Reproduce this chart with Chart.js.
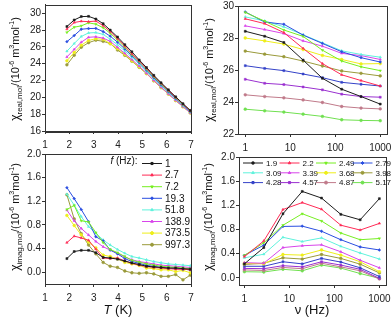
<!DOCTYPE html>
<html lang="en">
<head>
<meta charset="UTF-8">
<title>ac susceptibility</title>
<style>
html, body { margin: 0; padding: 0; background: #fff; }
#wrap { position: relative; width: 392px; height: 322px; overflow: hidden; }
#wrap canvas { position: absolute; left: 0; top: 0; }
</style>
</head>
<body>
<div id="wrap">
<canvas id="c1" width="392" height="322"></canvas>
<canvas id="c2" width="392" height="322"></canvas>
<canvas id="c3" width="392" height="322"></canvas>
<canvas id="c4" width="392" height="322"></canvas>
</div>
<script src="https://cdn.jsdelivr.net/npm/chart.js@4.4.0/dist/chart.umd.min.js"></script>
<script>
// temperatures (K) and frequencies (Hz)
var temps = [1.9, 2.2, 2.49, 2.79, 3.09, 3.39, 3.68, 3.98, 4.28, 4.57, 4.87, 5.17, 5.47, 5.77, 6.07, 6.37, 6.67, 6.97];
var tempLabels = ['1.9', '2.2', '2.49', '2.79', '3.09', '3.39', '3.68', '3.98', '4.28', '4.57', '4.87', '5.17'];
var freqs = [1, 2.7, 7.2, 19.3, 51.8, 138.9, 373.5, 997.3];
var freqLabels = ['1', '2.7', '7.2', '19.3', '51.8', '138.9', '373.5', '997.3'];

// chi' ; one row per temperature, one column per frequency
var chiReal = [
  [28.42, 28.11, 27.72, 26.62, 25.48, 24.80, 24.34, 23.87],
  [29.20, 28.90, 28.34, 27.35, 26.40, 25.70, 25.34, 25.00],
  [29.60, 29.05, 28.50, 28.10, 27.24, 26.56, 26.20, 25.96],
  [29.63, 29.00, 28.86, 28.18, 27.66, 27.14, 26.77, 26.50],
  [29.32, 29.07, 28.70, 28.20, 27.70, 27.20, 26.97, 26.80],
  [28.76, 28.53, 28.28, 27.82, 27.49, 27.04, 26.90, 26.66],
  [28.00, 27.82, 27.62, 27.28, 26.91, 26.66, 26.38, 26.40],
  [27.18, 26.99, 26.83, 26.56, 26.25, 25.94, 25.79, 25.63],
  [26.27, 26.10, 25.96, 25.75, 25.52, 25.23, 25.11, 25.00],
  [25.42, 25.17, 25.09, 24.94, 24.76, 24.49, 24.34, 24.30],
  [24.45, 24.34, 24.26, 24.13, 23.97, 23.72, 23.62, 23.57],
  [23.55, 23.45, 23.37, 23.24, 23.10, 22.89, 22.85, 22.83],
  [22.62, 22.53, 22.46, 22.34, 22.21, 22.02, 21.99, 21.97],
  [21.74, 21.66, 21.60, 21.49, 21.38, 21.21, 21.18, 21.16],
  [20.90, 20.83, 20.78, 20.69, 20.59, 20.44, 20.42, 20.40],
  [20.06, 20.00, 19.95, 19.88, 19.79, 19.66, 19.64, 19.63],
  [19.25, 19.20, 19.16, 19.10, 19.03, 18.92, 18.90, 18.89],
  [18.45, 18.41, 18.38, 18.32, 18.26, 18.17, 18.16, 18.15]
];

// chi''
var chiImag = [
  [0.23, 0.50, 1.06, 1.43, 1.32, 1.05, 0.96, 1.31],
  [0.35, 0.61, 1.13, 1.245, 1.135, 0.87, 0.79, 0.90],
  [0.37, 0.58, 0.87, 1.06, 0.94, 0.74, 0.63, 0.65],
  [0.37, 0.54, 0.85, 0.855, 0.77, 0.63, 0.51, 0.46],
  [0.33, 0.39, 0.67, 0.60, 0.66, 0.52, 0.41, 0.31],
  [0.25, 0.24, 0.50, 0.53, 0.545, 0.43, 0.29, 0.165],
  [0.24, 0.23, 0.385, 0.375, 0.46, 0.375, 0.265, 0.10],
  [0.22, 0.24, 0.33, 0.31, 0.385, 0.32, 0.225, 0.08],
  [0.19, 0.19, 0.265, 0.23, 0.32, 0.26, 0.165, 0.02],
  [0.155, 0.15, 0.20, 0.18, 0.265, 0.21, 0.14, -0.01],
  [0.13, 0.12, 0.17, 0.15, 0.24, 0.18, 0.115, -0.02],
  [0.10, 0.095, 0.14, 0.115, 0.21, 0.16, 0.07, -0.01],
  [0.09, 0.08, 0.12, 0.10, 0.18, 0.14, 0.06, -0.03],
  [0.08, 0.07, 0.10, 0.08, 0.16, 0.12, 0.04, -0.07],
  [0.07, 0.06, 0.09, 0.07, 0.14, 0.11, 0.04, -0.07],
  [0.07, 0.05, 0.08, 0.06, 0.13, 0.10, 0.01, -0.04],
  [0.06, 0.05, 0.07, 0.05, 0.12, 0.09, 0.03, -0.13],
  [0.05, 0.04, 0.06, 0.04, 0.11, 0.08, -0.01, -0.05]
];

var realTicks = [16, 18, 20, 22, 24, 26, 28, 30];
var imagTicks = [0, 0.4, 0.8, 1.2, 1.6, 2.0];
var logTicks = [1, 10, 100, 1000];

var colors = ['#1c1c1c', '#ff2a55', '#77ee22', '#2a4ee0', '#5ff2dc', '#d845ea', '#eeee1a', '#9a9a3a',
              '#3442c8', '#9a30d0', '#c07a8a', '#70e050'];
var styles = ['rect', 'triangle', 'triangle', 'rectRot', 'triangle', 'triangle', 'circle', 'circle',
              'rect', 'rect', 'circle', 'circle'];
var FONT = '"Liberation Sans", Arial, sans-serif';

function byFreq(table, nT) {
  return freqs.map(function (f, j) {
    return {
      label: freqLabels[j],
      data: temps.slice(0, nT).map(function (t, i) { return { x: t, y: table[i][j] }; }),
      borderColor: colors[j], backgroundColor: colors[j],
      pointStyle: styles[j], pointRotation: j == 2 ? 180 : 0
    };
  });
}

function byTemp(table) {
  return tempLabels.map(function (lab, i) {
    return {
      label: lab,
      data: freqs.map(function (f, j) { return { x: f, y: table[i][j] }; }),
      borderColor: colors[i], backgroundColor: colors[i],
      pointStyle: styles[i], pointRotation: i == 2 ? 180 : 0
    };
  });
}

function richText(ctx, parts, cx, cy, rot) {
  ctx.save();
  ctx.translate(cx, cy);
  if (rot) ctx.rotate(-Math.PI / 2);
  var w = 0;
  parts.forEach(function (p) {
    ctx.font = (p[3] ? 'italic ' : '') + p[1] + 'px ' + FONT;
    w += ctx.measureText(p[0]).width;
  });
  var x = -w / 2;
  ctx.fillStyle = '#111';
  ctx.textBaseline = 'alphabetic';
  parts.forEach(function (p) {
    ctx.font = (p[3] ? 'italic ' : '') + p[1] + 'px ' + FONT;
    ctx.fillText(p[0], x, 4 + p[2]);
    x += ctx.measureText(p[0]).width;
  });
  ctx.restore();
}

function yTitle(sub) {
  return [['\u03c7', 12, 0], [sub, 8, 3], ['/(10', 11, 0], ['-6', 7, -5], [' m', 11, 0], ['3', 7, -5],
          ['mol', 11, 0], ['-1', 7, -5], [')', 11, 0]];
}

function legendMark(ctx, ds, x1, x2, y) {
  ctx.save();
  ctx.strokeStyle = ds.borderColor;
  ctx.lineWidth = 1;
  ctx.beginPath();
  ctx.moveTo(x1, y);
  ctx.lineTo(x2, y);
  ctx.stroke();
  ctx.fillStyle = ds.borderColor;
  Chart.helpers.drawPoint(ctx, { pointStyle: ds.pointStyle, radius: 1.5, rotation: ds.pointRotation, borderWidth: 0.5 }, (x1 + x2) / 2, y);
  ctx.restore();
}

function panel(id, frame, xs, ys, datasets, extra) {
  var yW = 20, xH = 20;
  var frameBox = {
    id: 'frame' + id,
    afterDraw: function (chart) {
      var ctx = chart.ctx, a = chart.chartArea;
      ctx.save();
      ctx.strokeStyle = '#333';
      ctx.lineWidth = 1;
      ctx.strokeRect(Math.round(a.left) + 0.5, Math.round(a.top) + 0.5, Math.round(a.right - a.left), Math.round(a.bottom - a.top));
      ctx.restore();
      extra(chart, ctx);
    }
  };
  function fitter(s) {
    if (s.isHorizontal()) s.height = xH; else s.width = yW;
    s.paddingLeft = 0; s.paddingRight = 0; s.paddingTop = 0; s.paddingBottom = 0;
  }
  function scale(o) {
    var tv = o.ticks;
    return {
      type: o.type, min: o.min, max: o.max,
      afterFit: fitter,
      afterBuildTicks: function (s) { s.ticks = tv.map(function (v) { return { value: v }; }); },
      grid: { drawOnChartArea: false, tickLength: 3, color: '#333' },
      border: { color: '#333' },
      ticks: {
        color: '#222', font: { family: FONT, size: 10 }, padding: o.pad, autoSkip: false, maxRotation: 0,
        callback: function (v) { return o.fmt ? Number(v).toFixed(1) : String(v); }
      }
    };
  }
  return new Chart(document.getElementById(id), {
    type: 'line',
    data: { datasets: datasets },
    options: {
      responsive: false, animation: false, devicePixelRatio: 1,
      layout: { padding: { left: frame.l - yW, top: frame.t, right: 392 - frame.r, bottom: 322 - frame.b - xH } },
      elements: {
        line: { borderWidth: 1, tension: 0 },
        point: { radius: 1.4, borderWidth: 0.5 }
      },
      plugins: { legend: { display: false }, tooltip: { enabled: false } },
      scales: { x: scale(xs), y: scale(ys) }
    },
    plugins: [frameBox]
  });
}

// top left: chi' vs T
panel('c1', { l: 45, t: 1, r: 191, b: 131 },
  { type: 'linear', min: 1, max: 7, ticks: [1, 2, 3, 4, 5, 6, 7], pad: 5 },
  { type: 'linear', min: 16, max: 31.04, ticks: realTicks, pad: 1 },
  byFreq(chiReal, 18),
  function (chart, ctx) {
    richText(ctx, yTitle('real,mol'), 15, 69, true);
  });

// top right: chi' vs frequency
panel('c2', { l: 238, t: 6, r: 387, b: 134 },
  { type: 'logarithmic', min: 0.69, max: 1410, ticks: logTicks, pad: 5 },
  { type: 'linear', min: 22, max: 30, ticks: [22, 24, 26, 28, 30], pad: 1 },
  byTemp(chiReal),
  function (chart, ctx) {
    richText(ctx, yTitle('real,mol'), 209, 70, true);
  });

// bottom left: chi'' vs T
panel('c3', { l: 45, t: 154, r: 191, b: 284 },
  { type: 'linear', min: 1, max: 7, ticks: [1, 2, 3, 4, 5, 6, 7], pad: 5 },
  { type: 'linear', min: -0.2, max: 2.0, ticks: imagTicks, pad: 1, fmt: 1 },
  byFreq(chiImag, 18),
  function (chart, ctx) {
    richText(ctx, yTitle('imag,mol'), 15, 217, true);
    richText(ctx, [['T', 13, 0, 1], [' (K)', 13, 0]], 118, 310, false);
    richText(ctx, [['f', 10, 0, 1], [' (Hz):', 10, 0]], 124, 160, false);
    chart.data.datasets.forEach(function (ds, j) {
      var y = 163.5 + j * 11.6;
      legendMark(ctx, ds, 142, 162, y);
      ctx.save();
      ctx.fillStyle = '#111';
      ctx.font = '10px ' + FONT;
      ctx.textBaseline = 'middle';
      ctx.fillText(ds.label, 165, y + 0.5);
      ctx.restore();
    });
  });

// bottom right: chi'' vs frequency
panel('c4', { l: 239, t: 157, r: 386, b: 285 },
  { type: 'logarithmic', min: 0.76, max: 1400, ticks: logTicks, pad: 5 },
  { type: 'linear', min: -0.12, max: 2.0, ticks: imagTicks, pad: 1, fmt: 1 },
  byTemp(chiImag),
  function (chart, ctx) {
    richText(ctx, yTitle('imag,mol'), 208, 217, true);
    richText(ctx, [['\u03bd (Hz)', 13, 0]], 312, 310, false);
    chart.data.datasets.forEach(function (ds, i) {
      var col = i % 4, row = Math.floor(i / 4);
      var x = 243 + col * 36.5, y = 163 + row * 9.8;
      legendMark(ctx, ds, x, x + 20, y);
      ctx.save();
      ctx.fillStyle = '#111';
      ctx.font = '8px ' + FONT;
      ctx.textBaseline = 'middle';
      ctx.fillText(ds.label, x + 23, y + 0.5);
      ctx.restore();
    });
  });
</script>
</body>
</html>
